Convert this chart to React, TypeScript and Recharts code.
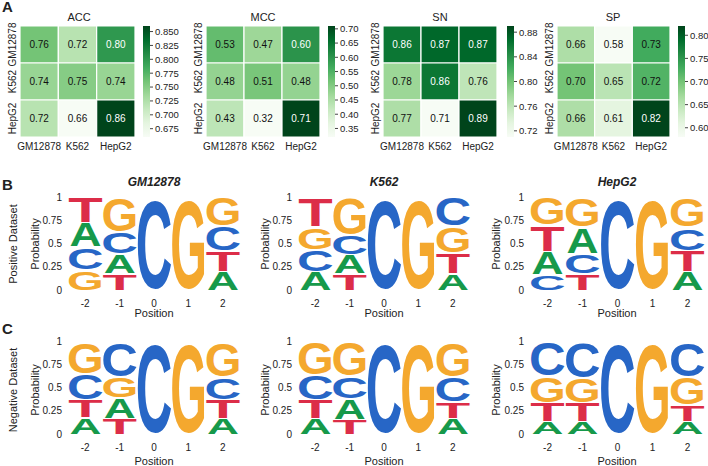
import React from 'react';
import { BarChart, Bar, XAxis, YAxis, Cell, LabelList } from 'recharts';

const FONT = '"Liberation Sans", Arial, sans-serif';
const INK = '#222';

// ---------- Panel A: heatmaps ----------
const CELL_LINES = ['GM12878', 'K562', 'HepG2'];

const accValues = [
  [0.76, 0.72, 0.8],
  [0.74, 0.75, 0.74],
  [0.72, 0.66, 0.86],
];
const mccValues = [
  [0.53, 0.47, 0.6],
  [0.48, 0.51, 0.48],
  [0.43, 0.32, 0.71],
];
const snValues = [
  [0.86, 0.87, 0.87],
  [0.78, 0.86, 0.76],
  [0.77, 0.71, 0.89],
];
const spValues = [
  [0.66, 0.58, 0.73],
  [0.7, 0.65, 0.72],
  [0.66, 0.61, 0.82],
];

const accTicks = [0.675, 0.7, 0.725, 0.75, 0.775, 0.8, 0.825, 0.85];
const mccTicks = [0.35, 0.4, 0.45, 0.5, 0.55, 0.6, 0.65, 0.7];
const snTicks = [0.72, 0.76, 0.8, 0.84, 0.88];
const spTicks = [0.6, 0.65, 0.7, 0.75, 0.8];

// matplotlib "Greens"
const GREENS = ['#f7fcf5', '#e5f5e0', '#c7e9c0', '#a1d99b', '#74c476', '#41ab5d', '#238b45', '#006d2c', '#00441b'];

const hexToRgb = (h: string) => [1, 3, 5].map((i) => parseInt(h.slice(i, i + 2), 16));
const greens = (t: number) => {
  const c = Math.max(0, Math.min(1, t)) * (GREENS.length - 1);
  const i = Math.min(Math.floor(c), GREENS.length - 2);
  const f = c - i;
  const a = hexToRgb(GREENS[i]);
  const b = hexToRgb(GREENS[i + 1]);
  const m = a.map((v, k) => Math.round(v + (b[k] - v) * f));
  return `rgb(${m[0]},${m[1]},${m[2]})`;
};

// ---------- Panels B/C: sequence logos ----------
const POSITIONS = ['-2', '-1', '0', '1', '2'];
const BASES = ['A', 'C', 'G', 'T'];
const BASE_COLORS: Record<string, string> = { A: '#16994a', C: '#2766c6', G: '#f4a82e', T: '#dc2d48' };

// probability of A, C, G, T at each position
const posGM12878 = [
  [0.26, 0.25, 0.22, 0.27],
  [0.21, 0.24, 0.37, 0.18],
  [0, 1, 0, 0],
  [0, 0, 1, 0],
  [0.2, 0.27, 0.31, 0.22],
];
const posK562 = [
  [0.2, 0.24, 0.25, 0.31],
  [0.2, 0.22, 0.4, 0.18],
  [0, 1, 0, 0],
  [0, 0, 1, 0],
  [0.18, 0.31, 0.29, 0.22],
];
const posHepG2 = [
  [0.25, 0.17, 0.3, 0.28],
  [0.28, 0.22, 0.32, 0.18],
  [0, 1, 0, 0],
  [0, 0, 1, 0],
  [0.2, 0.25, 0.32, 0.23],
];
const negGM12878 = [
  [0.18, 0.28, 0.35, 0.19],
  [0.22, 0.38, 0.23, 0.17],
  [0, 1, 0, 0],
  [0, 0, 1, 0],
  [0.17, 0.25, 0.38, 0.2],
];
const negK562 = [
  [0.17, 0.27, 0.36, 0.2],
  [0.22, 0.25, 0.37, 0.16],
  [0, 1, 0, 0],
  [0, 0, 1, 0],
  [0.17, 0.27, 0.38, 0.18],
];
const negHepG2 = [
  [0.14, 0.37, 0.29, 0.2],
  [0.14, 0.39, 0.27, 0.2],
  [0, 1, 0, 0],
  [0, 0, 1, 0],
  [0.14, 0.38, 0.3, 0.18],
];

// rough ink box of Liberation Sans Bold glyphs, in em: left, right, bottom, top
const GLYPH: Record<string, number[]> = {
  A: [0.0, 0.722, 0, 0.716],
  C: [0.048, 0.679, -0.014, 0.731],
  G: [0.049, 0.727, -0.014, 0.731],
  T: [0.021, 0.589, 0, 0.716],
};

const LogoLetter = (props: any) => {
  const { x, y, width, height, base } = props;
  if (!base || !height || height < 0.5) return <g />;
  const [l, r, b, t] = GLYPH[base];
  const fs = 100;
  const h = Math.max(height - 0.6, 0.1);
  const sx = width / ((r - l) * fs);
  const sy = h / ((t - b) * fs);
  const tx = x - l * fs * sx;
  const ty = y + height + b * fs * sy;
  return (
    <text
      transform={`translate(${tx},${ty}) scale(${sx},${sy})`}
      fontSize={fs}
      fontFamily={FONT}
      fontWeight="bold"
      fill={BASE_COLORS[base]}
    >
      {base}
    </text>
  );
};

const buildStack = (probs: number[][]) =>
  POSITIONS.map((pos, i) => {
    const sorted = BASES.map((b, k) => ({ b, p: probs[i][k] })).sort((a, c) => a.p - c.p);
    const row: any = { pos };
    sorted.forEach((s, k) => {
      row[`p${k}`] = s.p;
      row[`b${k}`] = s.b;
    });
    return row;
  });

const Logo = ({ probs, plotLeft, plotTop, plotW }: any) => {
  const data = buildStack(probs);
  const yW = 48;
  return (
    <div style={{ position: 'absolute', left: plotLeft - yW, top: plotTop - 8 }}>
      <BarChart
        width={yW + plotW + 3}
        height={8 + 93 + 22}
        data={data}
        margin={{ top: 8, right: 3, left: 0, bottom: 0 }}
        barCategoryGap="4%"
      >
        <XAxis
          dataKey="pos"
          height={22}
          axisLine={false}
          tickLine={false}
          tickMargin={4}
          interval={0}
          tick={{ fontSize: 10, fill: INK, fontFamily: FONT }}
        />
        <YAxis
          type="number"
          domain={[0, 1]}
          ticks={[0, 0.25, 0.5, 0.75, 1]}
          interval={0}
          width={yW}
          axisLine={false}
          tickLine={false}
          tickMargin={0}
          tick={{ fontSize: 10, fill: INK, fontFamily: FONT }}
          tickFormatter={(v: number) => String(v)}
        />
        {[0, 1, 2, 3].map((k) => (
          <Bar
            key={k}
            dataKey={`p${k}`}
            stackId="s"
            isAnimationActive={false}
            shape={(p: any) => <LogoLetter {...p} base={p.payload ? p.payload[`b${k}`] : undefined} />}
          />
        ))}
      </BarChart>
    </div>
  );
};

const RotatedTick = (props: any) => {
  const { x, y, payload } = props;
  return (
    <text
      x={x}
      y={y}
      transform={`rotate(-90, ${x}, ${y})`}
      textAnchor="middle"
      dominantBaseline="central"
      fontSize={10}
      fill={INK}
      fontFamily={FONT}
    >
      {payload.value}
    </text>
  );
};

const HEAT_TOP = 26;
const HEAT_H = 111;

const Heatmap = ({ values, ticks, plotLeft, plotW, barLeft, id, digits }: any) => {
  const flat = values.flat();
  const vmin = Math.min(...flat);
  const vmax = Math.max(...flat);
  const norm = (v: number) => (v - vmin) / (vmax - vmin);
  const rows = CELL_LINES.map((name, r) => ({
    name,
    one0: 1,
    one1: 1,
    one2: 1,
    v0: values[r][0],
    v1: values[r][1],
    v2: values[r][2],
  }));
  const yW = 20;
  return (
    <>
      <div style={{ position: 'absolute', left: plotLeft - yW, top: 0 }}>
        <BarChart
          layout="vertical"
          width={yW + plotW + 2}
          height={HEAT_TOP + HEAT_H + 20}
          data={rows}
          margin={{ top: HEAT_TOP, right: 2, left: 0, bottom: 0 }}
          barCategoryGap={0}
        >
          <XAxis
            type="number"
            domain={[0, 3]}
            ticks={[0.5, 1.5, 2.5]}
            interval={0}
            height={20}
            axisLine={false}
            tickLine={false}
            tickMargin={0}
            tick={{ fontSize: 10, fill: INK, fontFamily: FONT }}
            tickFormatter={(v: number) => CELL_LINES[Math.floor(v)]}
          />
          <YAxis type="category" dataKey="name" width={yW} axisLine={false} tickLine={false} tick={<RotatedTick />} />
          {[0, 1, 2].map((c) => (
            <Bar key={c} dataKey={`one${c}`} stackId="h" stroke="#fff" strokeWidth={1.2} isAnimationActive={false}>
              {rows.map((r: any, j: number) => (
                <Cell key={j} fill={greens(norm(r[`v${c}`]))} />
              ))}
              <LabelList
                dataKey={`v${c}`}
                content={(p: any) => (
                  <text
                    x={p.x + p.width / 2}
                    y={p.y + p.height / 2}
                    textAnchor="middle"
                    dominantBaseline="central"
                    fontSize={10}
                    fontFamily={FONT}
                    fill={norm(p.value) > 0.65 ? '#fff' : '#111'}
                  >
                    {Number(p.value).toFixed(2)}
                  </text>
                )}
              />
            </Bar>
          ))}
        </BarChart>
      </div>
      <div style={{ position: 'absolute', left: barLeft, top: 0 }}>
        <BarChart
          width={7 + 36}
          height={HEAT_TOP + HEAT_H + 10}
          data={[{ k: 'cb', r: [vmin, vmax] }]}
          margin={{ top: HEAT_TOP, right: 0, left: 0, bottom: 10 }}
          barCategoryGap={0}
        >
          <defs>
            <linearGradient id={id} x1="0" y1="1" x2="0" y2="0">
              {GREENS.map((g, i) => (
                <stop key={i} offset={i / (GREENS.length - 1)} stopColor={g} />
              ))}
            </linearGradient>
          </defs>
          <XAxis dataKey="k" hide />
          <YAxis
            orientation="right"
            type="number"
            domain={[vmin, vmax]}
            ticks={ticks}
            interval={0}
            width={36}
            axisLine={false}
            tickSize={3}
            tickMargin={2}
            stroke="#444"
            tick={{ fontSize: 9.5, fill: INK, fontFamily: FONT }}
            tickFormatter={(v: number) => v.toFixed(digits)}
          />
          <Bar dataKey="r" fill={`url(#${id})`} isAnimationActive={false} />
        </BarChart>
      </div>
    </>
  );
};

const Overlay = () => {
  const t = { fontFamily: FONT, fill: INK } as any;
  const rot = (x: number, y: number, s: string, fs = 11) => (
    <text x={x} y={y} transform={`rotate(-90, ${x}, ${y})`} textAnchor="middle" dominantBaseline="central" fontSize={fs} {...t}>
      {s}
    </text>
  );
  return (
    <svg width={708} height={466} style={{ position: 'absolute', left: 0, top: 0, pointerEvents: 'none' }}>
      <text x={2} y={12} fontSize={15} fontWeight="bold" {...t}>A</text>
      <text x={2} y={190} fontSize={15} fontWeight="bold" {...t}>B</text>
      <text x={2} y={334} fontSize={15} fontWeight="bold" {...t}>C</text>

      <text x={79} y={21} fontSize={11} textAnchor="middle" {...t}>ACC</text>
      <text x={263} y={21} fontSize={11} textAnchor="middle" {...t}>MCC</text>
      <text x={440} y={21} fontSize={11} textAnchor="middle" {...t}>SN</text>
      <text x={613} y={21} fontSize={11} textAnchor="middle" {...t}>SP</text>

      <text x={154} y={186} fontSize={12} fontWeight="bold" fontStyle="italic" textAnchor="middle" {...t}>GM12878</text>
      <text x={384} y={186} fontSize={12} fontWeight="bold" fontStyle="italic" textAnchor="middle" {...t}>K562</text>
      <text x={617} y={186} fontSize={12} fontWeight="bold" fontStyle="italic" textAnchor="middle" {...t}>HepG2</text>

      {rot(13, 244, 'Positive Dataset')}
      {rot(13, 390, 'Negative Dataset')}
      {rot(35, 244, 'Probability')}
      {rot(265, 244, 'Probability')}
      {rot(496, 244, 'Probability')}
      {rot(35, 390, 'Probability')}
      {rot(265, 390, 'Probability')}
      {rot(496, 390, 'Probability')}

      <text x={154} y={317} fontSize={11} textAnchor="middle" {...t}>Position</text>
      <text x={384} y={317} fontSize={11} textAnchor="middle" {...t}>Position</text>
      <text x={617} y={317} fontSize={11} textAnchor="middle" {...t}>Position</text>
      <text x={154} y={465} fontSize={11} textAnchor="middle" {...t}>Position</text>
      <text x={384} y={465} fontSize={11} textAnchor="middle" {...t}>Position</text>
      <text x={617} y={465} fontSize={11} textAnchor="middle" {...t}>Position</text>
    </svg>
  );
};

export default function App() {
  return (
    <div style={{ position: 'absolute', left: 0, top: 0, width: 708, height: 466, background: '#fff', fontFamily: FONT }}>
      <Heatmap values={accValues} ticks={accTicks} plotLeft={20} plotW={115} barLeft={143} id="gAcc" digits={3} />
      <Heatmap values={mccValues} ticks={mccTicks} plotLeft={206} plotW={114} barLeft={328} id="gMcc" digits={2} />
      <Heatmap values={snValues} ticks={snTicks} plotLeft={383} plotW={114} barLeft={507} id="gSn" digits={2} />
      <Heatmap values={spValues} ticks={spTicks} plotLeft={557} plotW={113} barLeft={678} id="gSp" digits={2} />

      <Logo probs={posGM12878} plotLeft={68} plotTop={197} plotW={172} />
      <Logo probs={posK562} plotLeft={298} plotTop={197} plotW={172} />
      <Logo probs={posHepG2} plotLeft={530} plotTop={197} plotW={175} />

      <Logo probs={negGM12878} plotLeft={68} plotTop={341} plotW={172} />
      <Logo probs={negK562} plotLeft={298} plotTop={341} plotW={172} />
      <Logo probs={negHepG2} plotLeft={530} plotTop={341} plotW={175} />

      <Overlay />
    </div>
  );
}
